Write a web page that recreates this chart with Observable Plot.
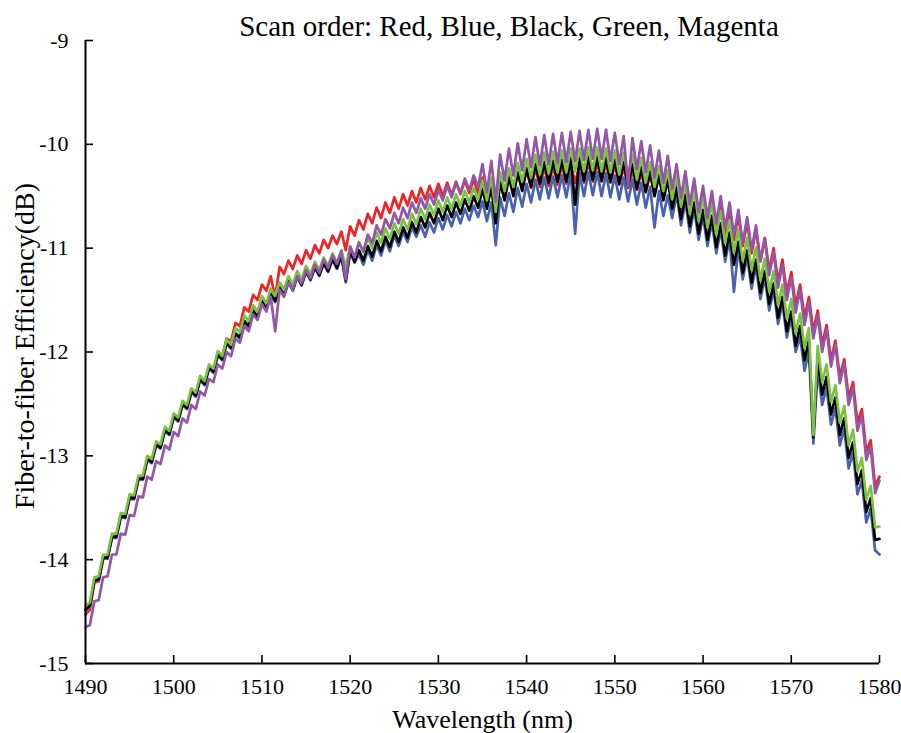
<!DOCTYPE html>
<html><head><meta charset="utf-8">
<script src="https://cdn.jsdelivr.net/npm/d3@7"></script>
<script src="https://cdn.jsdelivr.net/npm/@observablehq/plot@0.6"></script>
<style>
body{margin:0;background:#fff;}
#wrap{position:relative;width:901px;height:733px;}
#wrap svg, #wrap svg text{font-family:"Liberation Serif","Times New Roman",serif !important;}
#title{position:absolute;top:12px;left:509px;transform:translateX(-50%);white-space:nowrap;font-family:"Liberation Serif",serif;font-size:29px;line-height:1;color:#000;}
</style></head><body>
<div id="wrap"><div id="title">Scan order: Red, Blue, Black, Green, Magenta</div></div>
<script>
const titleText = "Scan order: Red, Blue, Black, Green, Magenta";
const xLabel = "Wavelength (nm)";
const yLabel = "Fiber-to-fiber Efficiency(dB)";
const xTicks = [1490,1500,1510,1520,1530,1540,1550,1560,1570,1580];
const yTicks = [-15,-14,-13,-12,-11,-10,-9];
const seriesNames = ["Red","Blue","Black","Green","Magenta"];
const seriesColors = ["#ee2326","#4862b0","#000000","#7cc242","#9257a8"];
// wavelength grid: 1490 to 1580 nm, 0.5 nm step (181 samples)
const wavelength = d3.range(181).map(i => 1490 + i * 0.5);

const red = [
-14.53,-14.48,-14.22,-14.21,-13.99,-13.99,-13.78,-13.78,-13.58,-13.59,
-13.40,-13.41,-13.22,-13.23,-13.03,-13.06,-12.89,-12.92,-12.75,-12.79,
-12.62,-12.66,-12.50,-12.54,-12.38,-12.42,-12.26,-12.30,-12.14,-12.18,
-12.01,-12.04,-11.87,-11.90,-11.72,-11.75,-11.57,-11.61,-11.45,-11.50,
-11.35,-11.41,-11.27,-11.48,-11.18,-11.25,-11.12,-11.20,-11.07,-11.15,
-11.02,-11.10,-10.97,-11.05,-10.92,-11.00,-10.88,-10.96,-10.84,-11.02,
-10.79,-10.88,-10.73,-10.82,-10.67,-10.76,-10.61,-10.71,-10.56,-10.66,
-10.51,-10.62,-10.48,-10.59,-10.45,-10.56,-10.42,-10.53,-10.40,-10.51,
-10.38,-10.50,-10.37,-10.49,-10.36,-10.48,-10.35,-10.47,-10.34,-10.47,
-10.32,-10.51,-10.33,-10.50,-10.31,-10.48,-10.29,-10.46,-10.27,-10.44,
-10.25,-10.42,-10.23,-10.41,-10.22,-10.40,-10.21,-10.39,-10.20,-10.38,
-10.19,-10.37,-10.19,-10.37,-10.18,-10.36,-10.18,-10.36,-10.18,-10.37,
-10.20,-10.39,-10.22,-10.42,-10.25,-10.44,-10.27,-10.46,-10.29,-10.48,
-10.31,-10.50,-10.33,-10.57,-10.33,-10.61,-10.37,-10.66,-10.42,-10.71,
-10.47,-10.76,-10.52,-10.81,-10.57,-10.86,-10.63,-10.92,-10.69,-10.98,
-10.75,-11.05,-10.82,-11.12,-10.90,-11.21,-11.00,-11.32,-11.11,-11.43,
-11.23,-11.55,-11.35,-11.67,-11.47,-11.80,-11.60,-11.93,-11.74,-12.08,
-11.89,-12.24,-12.07,-12.44,-12.29,-12.68,-12.55,-12.96,-12.85,-13.29,
-13.20];

const blue = [
-14.49,-14.45,-14.21,-14.20,-13.99,-13.99,-13.79,-13.79,-13.59,-13.60,
-13.41,-13.42,-13.23,-13.23,-13.04,-13.07,-12.90,-12.93,-12.76,-12.80,
-12.63,-12.67,-12.51,-12.55,-12.39,-12.43,-12.27,-12.32,-12.16,-12.20,
-12.03,-12.08,-11.92,-11.97,-11.83,-11.87,-11.71,-11.76,-11.61,-11.67,
-11.52,-11.59,-11.45,-11.52,-11.39,-11.46,-11.33,-11.41,-11.28,-11.36,
-11.23,-11.31,-11.19,-11.27,-11.15,-11.23,-11.11,-11.20,-11.08,-11.33,
-11.04,-11.14,-11.06,-11.16,-11.02,-11.12,-10.97,-11.07,-10.93,-11.03,
-10.88,-10.98,-10.84,-10.94,-10.80,-10.89,-10.78,-10.89,-10.75,-10.85,
-10.71,-10.82,-10.68,-10.79,-10.65,-10.76,-10.62,-10.73,-10.59,-10.70,
-10.55,-10.74,-10.56,-10.97,-10.51,-10.69,-10.47,-10.65,-10.42,-10.60,
-10.38,-10.56,-10.34,-10.53,-10.32,-10.52,-10.31,-10.51,-10.30,-10.51,
-10.28,-10.86,-10.28,-10.50,-10.27,-10.49,-10.27,-10.50,-10.28,-10.51,
-10.30,-10.53,-10.32,-10.55,-10.34,-10.58,-10.37,-10.61,-10.41,-10.80,
-10.45,-10.69,-10.49,-10.71,-10.48,-10.78,-10.55,-10.85,-10.62,-10.92,
-10.69,-10.98,-10.75,-11.05,-10.82,-11.13,-10.91,-11.42,-11.00,-11.30,
-11.08,-11.39,-11.17,-11.49,-11.28,-11.60,-11.40,-11.73,-11.53,-11.86,
-11.67,-12.00,-11.85,-12.18,-11.99,-12.88,-12.16,-12.51,-12.34,-12.70,
-12.54,-12.90,-12.74,-13.12,-12.97,-13.37,-13.24,-13.64,-13.51,-13.91,
-13.95];

const black = [
-14.48,-14.44,-14.20,-14.19,-13.98,-13.98,-13.78,-13.78,-13.58,-13.59,
-13.40,-13.41,-13.22,-13.22,-13.03,-13.06,-12.89,-12.92,-12.75,-12.79,
-12.62,-12.66,-12.50,-12.54,-12.38,-12.42,-12.26,-12.31,-12.15,-12.19,
-12.02,-12.07,-11.91,-11.96,-11.82,-11.86,-11.70,-11.75,-11.60,-11.66,
-11.51,-11.58,-11.44,-11.51,-11.38,-11.45,-11.32,-11.40,-11.27,-11.35,
-11.22,-11.30,-11.18,-11.26,-11.14,-11.22,-11.10,-11.19,-11.07,-11.31,
-11.03,-11.13,-11.02,-11.12,-10.98,-11.08,-10.93,-11.03,-10.89,-10.99,
-10.84,-10.94,-10.80,-10.90,-10.75,-10.85,-10.70,-10.80,-10.66,-10.76,
-10.62,-10.73,-10.59,-10.70,-10.56,-10.67,-10.53,-10.64,-10.50,-10.61,
-10.43,-10.62,-10.41,-10.76,-10.36,-10.54,-10.32,-10.50,-10.27,-10.45,
-10.23,-10.41,-10.19,-10.38,-10.17,-10.37,-10.16,-10.36,-10.15,-10.36,
-10.13,-10.58,-10.13,-10.35,-10.12,-10.34,-10.12,-10.35,-10.13,-10.36,
-10.15,-10.38,-10.17,-10.40,-10.19,-10.43,-10.22,-10.46,-10.26,-10.50,
-10.30,-10.54,-10.34,-10.62,-10.42,-10.72,-10.49,-10.79,-10.56,-10.86,
-10.63,-10.92,-10.69,-10.99,-10.76,-11.07,-10.85,-11.16,-10.94,-11.24,
-11.02,-11.33,-11.11,-11.43,-11.22,-11.54,-11.34,-11.67,-11.47,-11.80,
-11.61,-11.94,-11.75,-12.08,-11.89,-12.82,-12.06,-12.41,-12.24,-12.60,
-12.44,-12.80,-12.64,-13.02,-12.87,-13.27,-13.14,-13.54,-13.41,-13.81,
-13.80];

const green = [
-14.45,-14.41,-14.17,-14.16,-13.95,-13.95,-13.75,-13.75,-13.55,-13.56,
-13.37,-13.38,-13.19,-13.19,-13.00,-13.03,-12.86,-12.89,-12.72,-12.76,
-12.59,-12.63,-12.47,-12.51,-12.35,-12.39,-12.23,-12.28,-12.12,-12.16,
-11.99,-12.04,-11.88,-11.93,-11.77,-11.81,-11.65,-11.70,-11.55,-11.61,
-11.46,-11.53,-11.39,-11.46,-11.33,-11.40,-11.27,-11.35,-11.22,-11.30,
-11.17,-11.25,-11.13,-11.21,-11.09,-11.17,-11.05,-11.14,-11.02,-11.18,
-10.98,-11.08,-10.94,-11.04,-10.90,-11.00,-10.85,-10.95,-10.81,-10.91,
-10.76,-10.86,-10.72,-10.82,-10.67,-10.77,-10.62,-10.72,-10.58,-10.68,
-10.54,-10.65,-10.51,-10.62,-10.48,-10.59,-10.45,-10.56,-10.42,-10.53,
-10.35,-10.54,-10.32,-10.65,-10.27,-10.45,-10.23,-10.41,-10.18,-10.36,
-10.14,-10.32,-10.10,-10.29,-10.08,-10.28,-10.07,-10.27,-10.06,-10.27,
-10.04,-10.26,-10.04,-10.26,-10.03,-10.25,-10.03,-10.26,-10.04,-10.27,
-10.06,-10.29,-10.08,-10.31,-10.10,-10.34,-10.13,-10.37,-10.17,-10.41,
-10.21,-10.45,-10.25,-10.53,-10.30,-10.60,-10.37,-10.67,-10.44,-10.74,
-10.51,-10.80,-10.57,-10.87,-10.64,-10.95,-10.73,-11.04,-10.82,-11.12,
-10.90,-11.21,-10.99,-11.31,-11.10,-11.42,-11.22,-11.55,-11.35,-11.68,
-11.49,-11.82,-11.63,-11.96,-11.77,-12.80,-11.94,-12.29,-12.12,-12.48,
-12.32,-12.68,-12.52,-12.90,-12.75,-13.15,-13.02,-13.42,-13.29,-13.69,
-13.68];

const magenta = [
-14.65,-14.63,-14.40,-14.39,-14.17,-14.16,-13.95,-13.95,-13.75,-13.76,
-13.57,-13.58,-13.39,-13.40,-13.20,-13.23,-13.05,-13.08,-12.90,-12.94,
-12.77,-12.81,-12.64,-12.68,-12.51,-12.55,-12.38,-12.42,-12.26,-12.29,
-12.12,-12.16,-12.00,-12.04,-11.87,-11.91,-11.75,-11.80,-11.64,-11.69,
-11.54,-11.61,-11.47,-11.80,-11.40,-11.47,-11.33,-11.40,-11.27,-11.34,
-11.21,-11.29,-11.16,-11.24,-11.11,-11.19,-11.07,-11.15,-11.03,-11.30,
-10.99,-11.09,-10.95,-11.03,-10.87,-10.95,-10.78,-10.87,-10.72,-10.81,
-10.66,-10.76,-10.61,-10.71,-10.56,-10.66,-10.52,-10.62,-10.48,-10.58,
-10.44,-10.54,-10.40,-10.51,-10.37,-10.47,-10.33,-10.44,-10.30,-10.41,
-10.19,-10.46,-10.16,-10.55,-10.10,-10.35,-10.04,-10.30,-9.99,-10.25,
-9.95,-10.22,-9.93,-10.20,-9.91,-10.19,-9.90,-10.18,-9.89,-10.17,
-9.88,-10.16,-9.87,-10.15,-9.86,-10.14,-9.85,-10.14,-9.86,-10.16,
-9.89,-10.19,-9.92,-10.40,-9.94,-10.24,-9.97,-10.27,-10.01,-10.32,
-10.06,-10.37,-10.11,-10.43,-10.19,-10.51,-10.26,-10.58,-10.33,-10.65,
-10.40,-10.71,-10.45,-10.76,-10.50,-10.81,-10.56,-10.88,-10.63,-10.95,
-10.70,-11.02,-10.78,-11.13,-10.91,-11.26,-11.04,-11.38,-11.16,-11.50,
-11.28,-11.62,-11.40,-11.74,-11.52,-11.87,-11.65,-12.00,-11.78,-12.14,
-11.93,-12.30,-12.11,-12.51,-12.34,-12.76,-12.61,-13.04,-12.91,-13.36,
-13.24];

const seriesValues = [red, blue, black, green, magenta];
const rows = seriesNames.map((name, s) =>
  wavelength.map((w, i) => ({series: name, w, v: seriesValues[s][i]})));

const fontFamily = "Liberation Serif, Times New Roman, serif";
const plot = Plot.plot({
  width: 901, height: 733,
  marginLeft: 85, marginRight: 22, marginTop: 40, marginBottom: 70,
  style: {fontFamily, color: "#000", background: "#fff", overflow: "visible"},
  x: {domain: [1490, 1580]},
  y: {domain: [-15, -9]},
  marks: [
    ...rows.map((data, s) => Plot.line(data, {
      x: "w", y: "v", stroke: seriesColors[s], strokeWidth: 2.7, strokeLinejoin: "round"
    })),
    Plot.ruleX([1490], {strokeWidth: 2}),
    Plot.ruleY([-15], {strokeWidth: 2}),
    Plot.axisX({ticks: xTicks, tickSize: -8, tickPadding: 23, strokeWidth: 1.6,
      tickFormat: d => String(d), label: null, fontSize: 22, fontFamily}),
    Plot.axisY({ticks: yTicks, tickSize: -8, tickPadding: 25, strokeWidth: 1.6,
      tickFormat: d => String(d), label: null, fontSize: 22, fontFamily}),
    Plot.text([xLabel], {frameAnchor: "bottom", dy: 56, fontSize: 26, lineAnchor: "middle", fontFamily}),
    Plot.text([yLabel], {frameAnchor: "left", textAnchor: "middle", dx: -60, dy: -6, rotate: -90, fontSize: 28, lineAnchor: "middle", fontFamily})
  ]
});
document.getElementById("wrap").prepend(plot);
</script>
</body></html>
